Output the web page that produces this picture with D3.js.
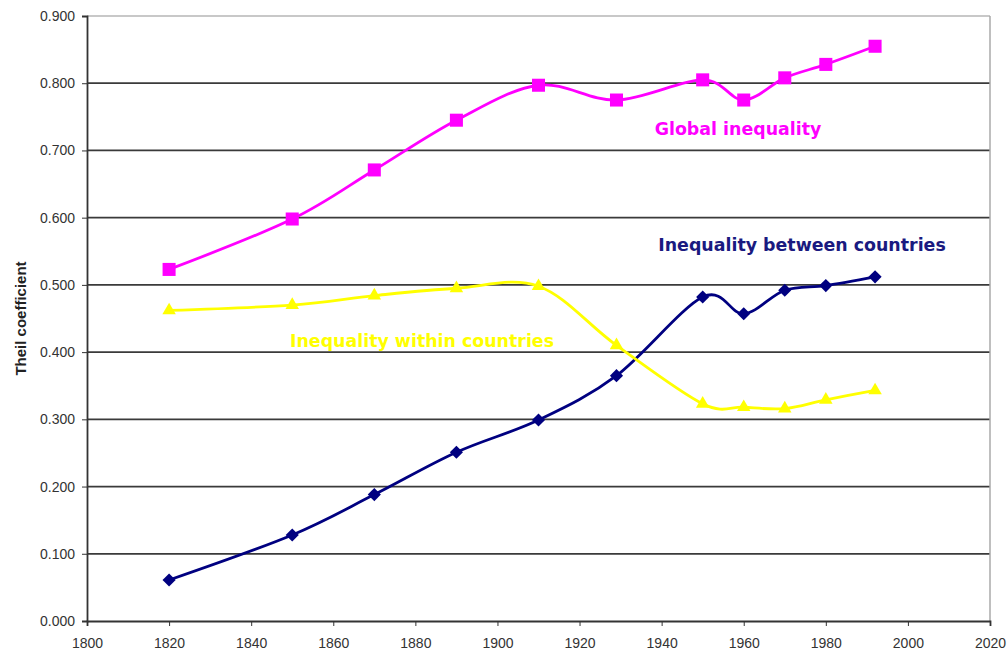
<!DOCTYPE html>
<html>
<head>
<meta charset="utf-8">
<script src="https://cdn.jsdelivr.net/npm/d3@7"></script>
<style>
  body { margin: 0; background: #fff; }
  svg { display: block; font-family: "Liberation Sans", Arial, sans-serif; }
</style>
</head>
<body>
<div id="chart"></div>
<script>
(function () {
    const width = 1007;
    const height = 655;
    const margin = { top: 16, right: 17, bottom: 34, left: 87 };

    // data
    const years = [1820, 1850, 1870, 1890, 1910, 1929, 1950, 1960, 1970, 1980, 1992];
    const globalIneq = [0.523, 0.598, 0.671, 0.745, 0.797, 0.775, 0.805, 0.775, 0.808, 0.828, 0.855];
    const betweenIneq = [0.061, 0.128, 0.188, 0.251, 0.299, 0.365, 0.482, 0.457, 0.492, 0.499, 0.512];
    const withinIneq = [0.462, 0.470, 0.484, 0.495, 0.498, 0.410, 0.323, 0.318, 0.316, 0.329, 0.343];
    const xTicks = [1800, 1820, 1840, 1860, 1880, 1900, 1920, 1940, 1960, 1980, 2000, 2020];
    const yTicks = [0, 0.1, 0.2, 0.3, 0.4, 0.5, 0.6, 0.7, 0.8, 0.9];

    const series = [
        { name: "Global inequality", values: globalIneq, color: "#ff00ff", marker: "square" },
        { name: "Inequality between countries", values: betweenIneq, color: "#000080", marker: "diamond" },
        { name: "Inequality within countries", values: withinIneq, color: "#ffff00", marker: "triangle" }
    ];

    const svg = d3.select("#chart").append("svg")
        .attr("width", width)
        .attr("height", height);

    const iw = width - margin.left - margin.right;
    const ih = height - margin.top - margin.bottom;

    const x = d3.scaleLinear().domain([1800, 2020]).range([0, iw]);
    const y = d3.scaleLinear().domain([0, 0.9]).range([ih, 0]);

    const g = svg.append("g")
        .attr("transform", `translate(${margin.left},${margin.top})`);

    // gridlines
    g.append("g")
        .selectAll("line")
        .data(yTicks.filter(d => d > 0))
        .join("line")
        .attr("x1", 0)
        .attr("x2", iw)
        .attr("y1", d => y(d))
        .attr("y2", d => y(d))
        .attr("stroke", d => d === 0.9 ? "#c8c8c8" : "#3a3a3a")
        .attr("stroke-width", d => d === 0.9 ? 2 : 1.8);

    // right border
    g.append("line")
        .attr("x1", iw).attr("x2", iw)
        .attr("y1", 0).attr("y2", ih)
        .attr("stroke", "#aaa")
        .attr("stroke-width", 1.5);

    // axes
    const yAxis = g.append("g")
        .call(d3.axisLeft(y).tickValues(yTicks).tickFormat(d3.format(".3f")).tickSize(5).tickPadding(7));
    const xAxis = g.append("g")
        .attr("transform", `translate(0,${ih})`)
        .call(d3.axisBottom(x).tickValues(xTicks).tickFormat(d3.format("d")).tickSize(5).tickPadding(12));

    [yAxis, xAxis].forEach(a => {
        a.select(".domain").attr("stroke", "#333").attr("stroke-width", 1.8);
        a.selectAll(".tick line").attr("stroke", "#333");
        a.selectAll("text")
            .style("font-size", "14px")
            .style("fill", "#333");
    });

    svg.append("text")
        .attr("transform", `translate(26,${margin.top + y(0.45)}) rotate(-90)`)
        .attr("text-anchor", "middle")
        .style("font-size", "15px")
        .style("font-weight", "bold")
        .style("fill", "#222")
        .text("Theil coefficient");

    const line = d3.line()
        .x(d => x(d[0]))
        .y(d => y(d[1]))
        .curve(d3.curveCatmullRom.alpha(0));

    const symbols = {
        square: d3.symbol().type(d3.symbolSquare).size(170),
        diamond: d3.symbol().type(d3.symbolDiamond2).size(110),
        triangle: d3.symbol().type(d3.symbolTriangle2).size(130)
    };

    series.forEach(s => {
        const pts = years.map((yr, i) => [yr, s.values[i]]);
        g.append("path")
            .datum(pts)
            .attr("fill", "none")
            .attr("stroke", s.color)
            .attr("stroke-width", 2.8)
            .attr("d", line);

        g.append("g")
            .selectAll("path")
            .data(pts)
            .join("path")
            .attr("transform", d => `translate(${x(d[0])},${y(d[1])})`)
            .attr("d", symbols[s.marker])
            .attr("fill", s.color);
    });

    // series labels
    const labels = [
        { text: "Global inequality", color: "#ff00ff", x: 738, y: 135 },
        { text: "Inequality between countries", color: "#1a1a80", x: 802, y: 251 },
        { text: "Inequality within countries", color: "#ffff00", x: 422, y: 347 }
    ];
    svg.append("g")
        .selectAll("text")
        .data(labels)
        .join("text")
        .attr("x", d => d.x)
        .attr("y", d => d.y)
        .attr("text-anchor", "middle")
        .style("font-family", "'DejaVu Sans', Verdana, sans-serif")
        .style("font-size", "17.4px")
        .style("font-weight", "bold")
        .style("fill", d => d.color)
        .text(d => d.text);
})();
</script>
</body>
</html>
